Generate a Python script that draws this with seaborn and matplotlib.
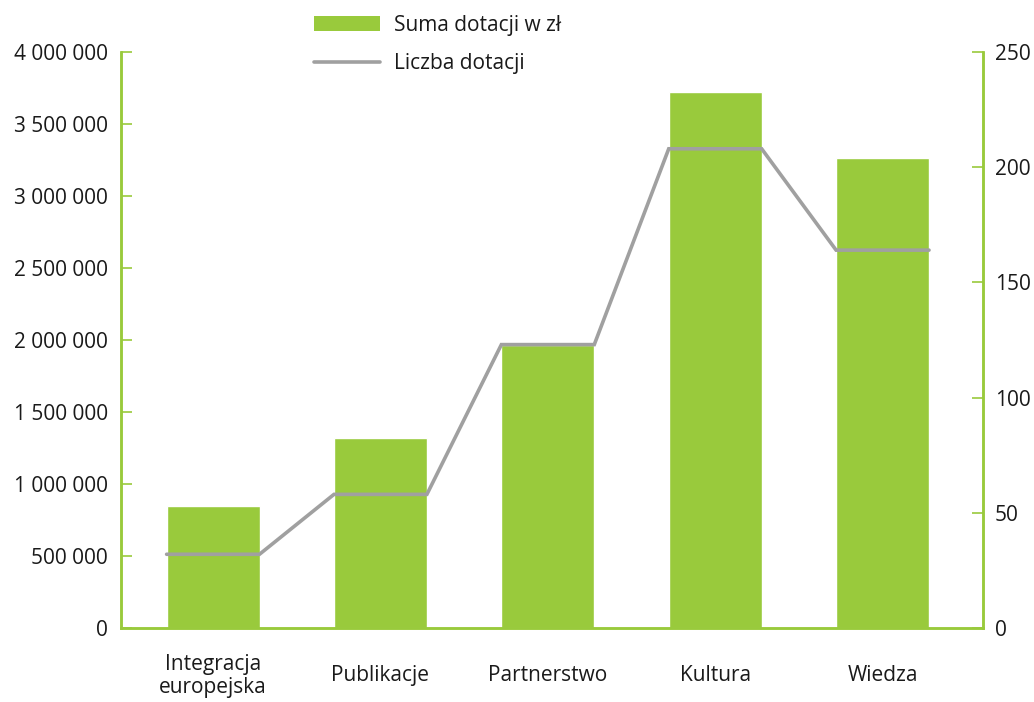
import matplotlib
matplotlib.use("Agg")
import matplotlib.pyplot as plt
import seaborn as sns
import pandas as pd
import numpy as np
from matplotlib.patches import Patch
from matplotlib.lines import Line2D

categories = ["Integracja\neuropejska", "Publikacje", "Partnerstwo", "Kultura", "Wiedza"]
suma_dotacji = [850000, 1320000, 1965000, 3720000, 3265000]
liczba_dotacji = [32, 58, 123, 208, 164]
left_ticks = [0, 500000, 1000000, 1500000, 2000000, 2500000, 3000000, 3500000, 4000000]
right_ticks = [0, 50, 100, 150, 200, 250]

BAR_GREEN = "#99CA3C"
AXIS_GREEN = "#99CA3C"
LINE_GREY = "#A0A0A0"
TXT = "#1a1a1a"
FS = 15

sns.set_theme(style="white")
plt.rcParams["font.family"] = ["Open Sans", "DejaVu Sans"]

fig = plt.figure(figsize=(10.34, 7.02), dpi=100)
ax = fig.add_axes([121/1034, 1 - 628/702, (983 - 121)/1034, (628 - 52)/702])

df = pd.DataFrame({"kat": categories, "suma": suma_dotacji})
bar_w = 0.555
sns.barplot(data=df, x="kat", y="suma", color=BAR_GREEN, width=bar_w,
            saturation=1, ax=ax, zorder=2)
ax.set_xlim(-0.55, 4.6)
ax.set_ylim(0, 4000000)
ax.set_xlabel("")
ax.set_ylabel("")
ax.set_yticks(left_ticks)
ax.set_yticklabels([f"{v:,}".replace(",", " ") for v in left_ticks])

ax2 = ax.twinx()
xs = []
ys = []
for i, v in enumerate(liczba_dotacji):
    xs += [i - bar_w/2, i + bar_w/2]
    ys += [v, v]
ax2.plot(xs, ys, color=LINE_GREY, lw=2.6, solid_joinstyle="miter", zorder=3)
ax2.set_ylim(0, 250)
ax2.set_yticks(right_ticks)

for a in (ax, ax2):
    a.spines["top"].set_visible(False)
    for s in ("left", "right", "bottom"):
        a.spines[s].set_color(AXIS_GREEN)
        a.spines[s].set_linewidth(1.8)
    a.grid(False)

ax.tick_params(axis="y", direction="in", length=8, width=1.2, color=AXIS_GREEN,
               pad=9.4, labelsize=FS, labelcolor=TXT, left=True)
ax2.tick_params(axis="y", direction="in", length=8, width=1.2, color=AXIS_GREEN,
                pad=8.6, labelsize=FS, labelcolor=TXT, right=True)
ax.tick_params(axis="x", length=0, pad=34.5, labelsize=FS, labelcolor=TXT)
for lab in ax.get_xticklabels():
    lab.set_verticalalignment("center")
    lab.set_horizontalalignment("center")
    lab.set_linespacing(1.12)

handles = [Patch(facecolor=BAR_GREEN, edgecolor="none"),
           Line2D([0], [0], color=LINE_GREY, lw=2.6)]
fig.legend(handles, ["Suma dotacji w zł", "Liczba dotacji"], loc="upper left",
           bbox_to_anchor=(295/1034, 1 + 4/702), frameon=False, fontsize=FS,
           handlelength=3.2, handleheight=0.77, handletextpad=0.63,
           labelspacing=0.85, borderpad=0.4, labelcolor=TXT)

fig.savefig("out.png", dpi=100)
